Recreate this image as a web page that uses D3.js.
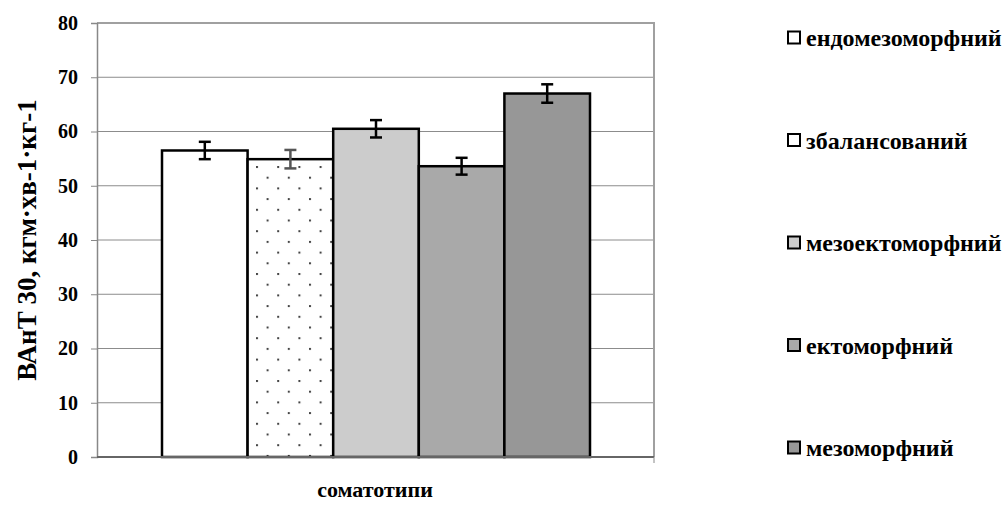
<!DOCTYPE html>
<html>
<head>
<meta charset="utf-8">
<script src="https://cdn.jsdelivr.net/npm/d3@7"></script>
<style>
  body { margin: 0; background: #fff; }
  text { font-family: "Liberation Serif", "Times New Roman", serif; font-weight: bold; }
</style>
</head>
<body>
<svg id="chart" width="1008" height="512"></svg>
<script>
// somatotypes (one category, five series)
var series = ['ендомезоморфний', 'збалансований', 'мезоектоморфний', 'ектоморфний', 'мезоморфний']
var values = [56.5, 54.9, 60.5, 53.6, 67.0]
var errors = [1.6, 1.7, 1.6, 1.55, 1.7]
var fills = ['#ffffff', 'url(#dots)', '#cccccc', '#a9a9a9', '#979797']
var legendFills = ['#ffffff', '#ffffff', '#cccccc', '#a9a9a9', '#979797']
var errColors = ['#000', '#555', '#000', '#000', '#000']
var yTicks = [0, 10, 20, 30, 40, 50, 60, 70, 80]

var svg = d3.select('#chart')

var plotLeft = 97, plotRight = 654, plotTop = 23, plotBottom = 457

// dot pattern for the "balanced" bar
var defs = svg.append('defs')
var pat = defs.append('pattern')
    .attr('id', 'dots')
    .attr('patternUnits', 'userSpaceOnUse')
    .attr('width', 21.2)
    .attr('height', 21.4)
    .attr('x', 256)
    .attr('y', 166)
pat.append('rect').attr('width', 21.2).attr('height', 21.4).attr('fill', '#fff')
pat.append('rect').attr('x', 0).attr('y', 0).attr('width', 2).attr('height', 2).attr('fill', '#444')
pat.append('rect').attr('x', 10.6).attr('y', 10.7).attr('width', 2).attr('height', 2).attr('fill', '#444')

var y = d3.scaleLinear().domain([0, 80]).range([plotBottom, plotTop])

// bars: Excel-style 150% gap width
var x = d3.scaleBand().domain(series).range([162, 590]).padding(0)

// gridlines
svg.append('g')
  .selectAll('line')
  .data(yTicks.filter(function(d) { return d > 0 && d < 80 }))
  .enter().append('line')
    .attr('x1', plotLeft).attr('x2', plotRight)
    .attr('y1', function(d) { return y(d) }).attr('y2', function(d) { return y(d) })
    .attr('stroke', '#8c8c8c').attr('stroke-width', 1)

// plot border top + right
svg.append('path')
    .attr('d', 'M' + plotLeft + ',' + y(80) + 'H' + plotRight + 'V' + plotBottom)
    .attr('fill', 'none').attr('stroke', '#a0a0a0').attr('stroke-width', 2)

// y axis
var yAxis = d3.axisLeft(y).tickValues(yTicks).tickSize(6).tickPadding(13)
var yg = svg.append('g').attr('transform', 'translate(' + plotLeft + ',0)').call(yAxis)
yg.attr('font-family', null).attr('font-size', null)
yg.select('.domain').attr('stroke', '#888').attr('stroke-width', 1.5)
yg.selectAll('.tick line').attr('stroke', '#888').attr('stroke-width', 1)
yg.selectAll('.tick text')
    .attr('font-size', 20).attr('fill', '#000')

// bars
svg.append('g')
  .selectAll('rect')
  .data(values)
  .enter().append('rect')
    .attr('x', function(d, i) { return x(series[i]) })
    .attr('y', function(d) { return y(d) })
    .attr('width', x.bandwidth())
    .attr('height', function(d) { return plotBottom - y(d) })
    .attr('fill', function(d, i) { return fills[i] })
    .attr('stroke', '#000')
    .attr('stroke-width', 2.5)

// x axis line
svg.append('line')
    .attr('x1', plotLeft).attr('x2', plotRight).attr('y1', plotBottom).attr('y2', plotBottom)
    .attr('stroke', '#666').attr('stroke-width', 2)
svg.append('line')
    .attr('x1', plotRight).attr('x2', plotRight).attr('y1', plotBottom).attr('y2', plotBottom + 6)
    .attr('stroke', '#888').attr('stroke-width', 1)

// error bars
var eg = svg.append('g')
values.forEach(function(v, i) {
    var cx = x(series[i]) + x.bandwidth() / 2
    var g = eg.append('g').attr('stroke', errColors[i]).attr('stroke-width', 2.5)
    g.append('line').attr('x1', cx).attr('x2', cx).attr('y1', y(v + errors[i])).attr('y2', y(v - errors[i]))
    g.append('line').attr('x1', cx - 6).attr('x2', cx + 6).attr('y1', y(v + errors[i])).attr('y2', y(v + errors[i]))
    g.append('line').attr('x1', cx - 6).attr('x2', cx + 6).attr('y1', y(v - errors[i])).attr('y2', y(v - errors[i]))
})

// axis titles
svg.append('text')
    .attr('transform', 'translate(36,' + ((plotTop + plotBottom) / 2) + ') rotate(-90)')
    .attr('text-anchor', 'middle')
    .attr('font-size', 27)
    .text('ВАнТ 30, кгм·хв-1·кг-1')

svg.append('text')
    .attr('x', 375).attr('y', 497)
    .attr('text-anchor', 'middle')
    .attr('font-size', 22)
    .text('соматотипи')

// legend
var legY = d3.scalePoint().domain(series).range([38, 448])
var leg = svg.append('g')
    .selectAll('g')
    .data(series)
    .enter().append('g')
    .attr('transform', function(d) { return 'translate(788,' + legY(d) + ')' })
leg.append('rect')
    .attr('x', 0).attr('y', -6.5).attr('width', 12).attr('height', 12)
    .attr('fill', function(d, i) { return legendFills[i] })
    .attr('stroke', '#000').attr('stroke-width', 2)
leg.append('text')
    .attr('x', 18).attr('y', 8)
    .attr('font-size', 24)
    .text(function(d) { return d })
</script>
</body>
</html>
